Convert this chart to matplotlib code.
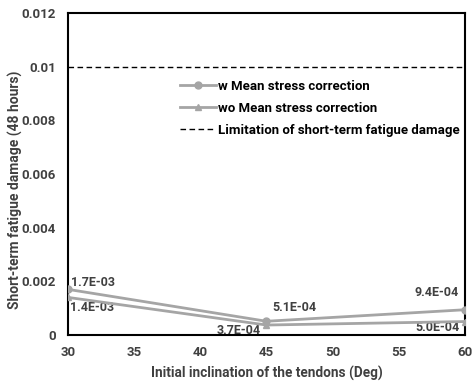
import matplotlib
matplotlib.use("Agg")
import matplotlib.pyplot as plt

plt.rcParams['font.family'] = ['Roboto', 'DejaVu Sans']
plt.rcParams['font.weight'] = 'bold'

angles = [30, 45, 60]
damage_with_mean = [1.7e-3, 5.1e-4, 9.4e-4]
damage_without_mean = [1.4e-3, 3.7e-4, 5.0e-4]
damage_limit = 0.01

labels_with = ["1.7E-03", "5.1E-04", "9.4E-04"]
labels_without = ["1.4E-03", "3.7E-04", "5.0E-04"]

x_ticks = [30, 35, 40, 45, 50, 55, 60]
y_ticks = [0, 0.002, 0.004, 0.006, 0.008, 0.01, 0.012]
y_tick_labels = ["0", "0.002", "0.004", "0.006", "0.008", "0.01", "0.012"]

gray = "#a5a5a5"
text_color = "#404040"

fig = plt.figure(figsize=(4.75, 3.85), dpi=100)
ax = fig.add_axes([0.143, 0.130, 0.836, 0.836])

ax.plot(angles, damage_with_mean, color=gray, lw=2, marker='o', ms=5,
        label="w Mean stress correction", zorder=3)
ax.plot(angles, damage_without_mean, color=gray, lw=2, marker='^', ms=5,
        label="wo Mean stress correction", zorder=3)
ax.axhline(damage_limit, color="black", lw=1, ls=(0, (4, 2.5)),
           label="Limitation of short-term fatigue damage")

ax.set_xlim(30, 60)
ax.set_ylim(0, 0.012)
ax.set_xticks(x_ticks)
ax.set_yticks(y_ticks)
ax.set_yticklabels(y_tick_labels)
ax.tick_params(length=0, labelsize=9.5, labelcolor=text_color)
ax.tick_params(axis='x', pad=8)
ax.tick_params(axis='y', pad=8.5)
for s in ax.spines.values():
    s.set_linewidth(1.5)
    s.set_color("black")

ax.set_xlabel("Initial inclination of the tendons (Deg)", fontsize=9.8,
              color=text_color, fontweight='bold')
ax.set_ylabel("Short-term fatigue damage (48 hours)", fontsize=10,
              color=text_color, fontweight='bold')
ax.xaxis.set_label_coords(0.5, -0.096)
ax.yaxis.set_label_coords(-0.114, 0.45)

offsets_with = [(25, 7), (28, 14), (-28, 17)]
offsets_without = [(24, -10), (-28, -5), (-28, -6)]
for x, y, t, off in zip(angles, damage_with_mean, labels_with, offsets_with):
    ax.annotate(t, (x, y), xytext=off, textcoords="offset pixels",
                ha="center", va="center", fontsize=9, color=text_color,
                fontweight='bold', annotation_clip=False)
for x, y, t, off in zip(angles, damage_without_mean, labels_without, offsets_without):
    ax.annotate(t, (x, y), xytext=off, textcoords="offset pixels",
                ha="center", va="center", fontsize=9, color=text_color,
                fontweight='bold', annotation_clip=False, zorder=1)

leg = ax.legend(loc="upper left", bbox_to_anchor=(0.379, 0.792),
                bbox_transform=fig.transFigure, frameon=False,
                fontsize=9.5, handlelength=2.7, handletextpad=0.2,
                labelspacing=0.68, borderpad=0, borderaxespad=0)
for t in leg.get_texts():
    t.set_color("black")
    t.set_fontweight('bold')

fig.savefig("out.png", dpi=100, facecolor="white")
